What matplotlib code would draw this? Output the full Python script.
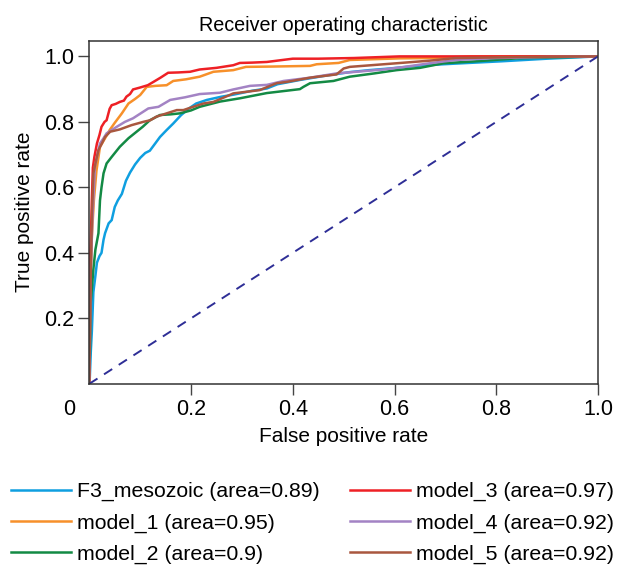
import matplotlib
matplotlib.use("Agg")
import matplotlib.pyplot as plt
import matplotlib.transforms as mtransforms

plt.rcParams['font.family'] = ['Liberation Sans', 'DejaVu Sans']

labels = ["F3_mesozoic (area=0.89)", "model_1 (area=0.95)", "model_2 (area=0.9)",
          "model_3 (area=0.97)", "model_4 (area=0.92)", "model_5 (area=0.92)"]
colors = ["#0f9fe0", "#f7902a", "#138a44", "#ee2025", "#a383c4", "#a9573f"]

fpr_f3 = [0, 0.001, 0.003, 0.005, 0.008, 0.012, 0.015, 0.020, 0.024, 0.028, 0.031, 0.038, 0.044,
          0.05, 0.056, 0.064, 0.072, 0.08, 0.09, 0.1, 0.11, 0.119, 0.13, 0.139, 0.152, 0.165, 0.18,
          0.195, 0.21, 0.231, 0.26, 0.283, 0.32, 0.349, 0.37, 0.414, 0.46, 0.512, 0.55, 0.59, 0.65,
          0.72, 0.81, 0.9, 1.0]
tpr_f3 = [0, 0.02, 0.1, 0.16, 0.28, 0.33, 0.37, 0.39, 0.40, 0.44, 0.46, 0.49, 0.50, 0.54, 0.56,
          0.58, 0.62, 0.645, 0.67, 0.69, 0.705, 0.712, 0.735, 0.754, 0.775, 0.795, 0.82, 0.84,
          0.856, 0.867, 0.877, 0.883, 0.895, 0.902, 0.915, 0.928, 0.94, 0.952, 0.958, 0.963, 0.972,
          0.978, 0.985, 0.993, 1.0]

fpr_m1 = [0, 0.002, 0.005, 0.009, 0.014, 0.021, 0.031, 0.04, 0.05, 0.064, 0.077, 0.09, 0.10, 0.113,
          0.13, 0.152, 0.165, 0.19, 0.217, 0.244, 0.283, 0.308, 0.36, 0.434, 0.447, 0.49, 0.512,
          0.61, 0.68, 0.75, 1.0]
tpr_m1 = [0, 0.3, 0.45, 0.56, 0.65, 0.724, 0.75, 0.775, 0.797, 0.826, 0.856, 0.87, 0.882, 0.907,
          0.91, 0.912, 0.925, 0.93, 0.938, 0.953, 0.958, 0.968, 0.969, 0.971, 0.976, 0.98, 0.989,
          0.994, 0.995, 1.0, 1.0]

fpr_m2 = [0, 0.003, 0.008, 0.012, 0.018, 0.021, 0.024, 0.028, 0.034, 0.044, 0.06, 0.077, 0.093,
          0.105, 0.119, 0.139, 0.16, 0.178, 0.2, 0.217, 0.257, 0.296, 0.349, 0.414, 0.421, 0.434,
          0.48, 0.512, 0.56, 0.604, 0.65, 0.696, 0.76, 0.84, 0.92, 1.0]
tpr_m2 = [0, 0.25, 0.35, 0.41, 0.46, 0.56, 0.60, 0.643, 0.673, 0.693, 0.724, 0.75, 0.77, 0.785,
          0.805, 0.821, 0.823, 0.826, 0.835, 0.846, 0.862, 0.872, 0.888, 0.9, 0.907, 0.918,
          0.925, 0.938, 0.948, 0.958, 0.965, 0.979, 0.985, 0.994, 0.997, 1.0]

fpr_m3 = [0, 0.001, 0.002, 0.004, 0.005, 0.007, 0.010, 0.015, 0.020, 0.024, 0.030, 0.034, 0.040,
          0.044, 0.052, 0.060, 0.068, 0.073, 0.080, 0.086, 0.10, 0.115, 0.126, 0.14, 0.155, 0.175,
          0.198, 0.217, 0.25, 0.283, 0.296, 0.32, 0.349, 0.40, 0.45, 0.52, 0.61, 0.8, 1.0]
tpr_m3 = [0, 0.2, 0.4, 0.5, 0.56, 0.66, 0.693, 0.734, 0.76, 0.785, 0.80, 0.805, 0.84, 0.851, 0.855,
          0.861, 0.865, 0.877, 0.885, 0.899, 0.905, 0.912, 0.922, 0.935, 0.95, 0.951, 0.953, 0.96,
          0.965, 0.973, 0.98, 0.981, 0.983, 0.993, 0.993, 0.995, 1.0, 1.0, 1.0]

fpr_m4 = [0, 0.003, 0.006, 0.011, 0.016, 0.021, 0.028, 0.034, 0.044, 0.054, 0.07, 0.086, 0.1, 0.116,
          0.136, 0.159, 0.188, 0.217, 0.257, 0.283, 0.316, 0.349, 0.382, 0.434, 0.486, 0.54, 0.578,
          0.62, 0.669, 0.72, 0.8, 0.9, 1.0]
tpr_m4 = [0, 0.35, 0.5, 0.663, 0.70, 0.734, 0.75, 0.765, 0.775, 0.785, 0.80, 0.811, 0.825, 0.841,
          0.846, 0.867, 0.875, 0.885, 0.889, 0.899, 0.91, 0.913, 0.925, 0.935, 0.948, 0.955, 0.96,
          0.968, 0.979, 0.989, 0.995, 0.998, 1.0]

fpr_m5 = [0, 0.003, 0.005, 0.008, 0.013, 0.018, 0.025, 0.031, 0.041, 0.06, 0.083, 0.106, 0.12,
          0.132, 0.15, 0.172, 0.185, 0.204, 0.224, 0.244, 0.276, 0.283, 0.335, 0.368, 0.388, 0.434,
          0.486, 0.50, 0.512, 0.604, 0.669, 0.72, 0.85, 1.0]
tpr_m5 = [0, 0.35, 0.5, 0.643, 0.68, 0.714, 0.735, 0.754, 0.770, 0.777, 0.790, 0.80, 0.805, 0.816,
          0.825, 0.836, 0.836, 0.846, 0.856, 0.861, 0.882, 0.887, 0.897, 0.918, 0.922, 0.935, 0.945,
          0.963, 0.968, 0.979, 0.987, 0.995, 0.998, 1.0]

xticks = [0.2, 0.4, 0.6, 0.8, 1.0]
yticks = [0.2, 0.4, 0.6, 0.8, 1.0]

series = [(fpr_f3, tpr_f3), (fpr_m1, tpr_m1), (fpr_m2, tpr_m2),
          (fpr_m3, tpr_m3), (fpr_m4, tpr_m4), (fpr_m5, tpr_m5)]

fig = plt.figure(figsize=(6.18, 5.65), dpi=100)
ax = fig.add_axes([0.1445, 0.3207, 0.8231, 0.6073])

for (fx, ty), c, lab in zip(series, colors, labels):
    ax.plot(fx, ty, color=c, lw=1.8, label=lab, solid_joinstyle='miter')
ax.plot([0, 1], [0, 1], color="#2e2e96", lw=1.4, ls=(0, (5, 4)))

ax.set_xlim(0, 1.0)
ax.set_ylim(0, 1.048)
ax.set_xticks(xticks)
ax.set_xticklabels(["0.2", "0.4", "0.6", "0.8", "1.0"])
ax.set_yticks(yticks)
ax.set_yticklabels(["0.2", "0.4", "0.6", "0.8", "1.0"])
ax.tick_params(direction='out', length=8, width=1.0, pad=3, labelsize=15.5, color='#444444')
for s in ax.spines.values():
    s.set_linewidth(1.1)
    s.set_color('#333333')

trans = mtransforms.blended_transform_factory(ax.transData, ax.transAxes)
ax.annotate("0", xy=(-0.04, 0), xycoords=trans, xytext=(0, -11), textcoords='offset points',
            ha='center', va='top', fontsize=15.5, annotation_clip=False)

ax.set_xlabel("False positive rate", fontsize=15, labelpad=5)
ax.set_ylabel("True positive rate", fontsize=15, labelpad=7)
ax.set_title("Receiver operating characteristic", fontsize=14.2, pad=7)

fig.legend(loc='upper left', bbox_to_anchor=(0.018, 0.147), ncol=2, frameon=False,
           fontsize=15.3, handlelength=2.82, handletextpad=0.28, columnspacing=1.42,
           labelspacing=0.57, borderpad=0, borderaxespad=0)

fig.savefig("out.png", dpi=100)
